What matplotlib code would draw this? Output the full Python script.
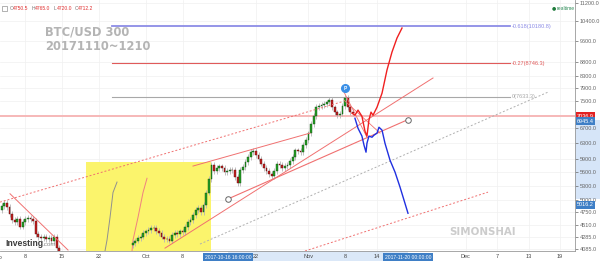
import matplotlib
matplotlib.use("Agg")
import matplotlib.pyplot as plt
import matplotlib.dates as mdates
import matplotlib.transforms as mtransforms
import pandas as pd
from matplotlib.patches import Rectangle
from matplotlib.ticker import FixedLocator, NullLocator, FuncFormatter

plt.rcParams["font.family"] = ["Liberation Sans", "DejaVu Sans"]

# 12h candles, closes (open = previous close)
sep_start = "2017-09-03 12:00"
sep_open = 4800
sep_close = [4880, 4930, 4850, 4720, 4600, 4560, 4620, 4480, 4560, 4620, 4640,
             4620, 4580, 4340, 4290, 4270, 4300, 4260, 4280, 4220, 4300, 4100,
             3950]
oct_start = "2017-09-28 12:00"
oct_open = 4150
oct_close = [4190, 4230, 4270, 4300, 4360, 4390, 4420, 4450, 4460, 4400, 4360,
             4300, 4260, 4250, 4230, 4330, 4360, 4350, 4390, 4380, 4470, 4560,
             4600, 4700, 4790, 4830, 4760, 4900, 5150, 5450, 5760, 5620, 5700,
             5730, 5700, 5600, 5620, 5650, 5640, 5480, 5350, 5640, 5720, 5830,
             5950, 6080, 6100, 6000, 5920, 5800, 5700, 5620, 5560, 5500, 5620,
             5780, 5760, 5700, 5740, 5760, 5860, 5960, 6120, 6100, 6080, 6250,
             6380, 6560, 6820, 7050, 7320, 7340, 7380, 7400, 7450, 7540, 7300,
             7150, 7080, 7120, 7350, 7600, 7300, 7160, 7130]

# fibonacci extension levels
fib_span = ["2017-09-24 13:00", "2017-12-09 10:40"]
fib_levels = [10180.8, 8746.3, 7633.3]
fib_labels = ["-0.618(10180.8)", "-0.27(8746.3)", "0(7633.3)"]

last_price = 7036.9
sel_dates = ["2017-10-16 16:00", "2017-11-20 00:00"]
sel_prices = [5016.2, 6945.4]

# hand drawn forecast paths
red_dates = ["2017-11-09 07:30", "2017-11-09 21:00", "2017-11-10 11:00",
             "2017-11-11 05:00", "2017-11-11 19:00", "2017-11-12 04:00",
             "2017-11-12 13:00", "2017-11-12 22:30", "2017-11-13 07:40",
             "2017-11-14 02:00", "2017-11-15 01:00", "2017-11-15 23:40",
             "2017-11-16 22:36", "2017-11-17 21:30", "2017-11-18 20:24"]
red_prices = [7130, 7070, 7220, 7040, 6620, 6490, 6930, 7160, 7070, 7306,
              7740, 8510, 9160, 9702, 10108]
blue_dates = ["2017-11-09 21:00", "2017-11-10 11:00", "2017-11-11 05:00",
              "2017-11-11 14:30", "2017-11-11 23:40", "2017-11-12 04:00",
              "2017-11-12 13:00", "2017-11-13 03:00", "2017-11-13 12:00",
              "2017-11-14 02:00", "2017-11-14 11:00", "2017-11-15 01:00",
              "2017-11-15 14:36", "2017-11-16 13:30", "2017-11-17 12:24",
              "2017-11-18 11:00", "2017-11-19 05:30", "2017-11-19 23:48"]
blue_prices = [6983, 6703, 6490, 6253, 6076, 6304, 6490, 6460, 6514, 6570,
               6730, 6650, 6300, 5880, 5600, 5270, 4992, 4730]

# fib arcs inside the yellow box
gray_arc_dates = ["2017-09-23 05:00", "2017-09-23 14:12", "2017-09-24 04:00",
                  "2017-09-24 17:36", "2017-09-25 12:00"]
gray_arc_prices = [4052, 4238, 4650, 5150, 5375]
red_arc_dates = ["2017-09-28 08:36", "2017-09-28 13:12", "2017-09-29 12:00",
                 "2017-09-30 11:00", "2017-10-01 05:18"]
red_arc_prices = [4052, 4238, 4650, 5150, 5460]

# trend lines: (start date, start price, end date, end price)
line_top_dash = ("2017-09-03 04:24", 4951, "2017-11-07 14:00", 7480)
line_low_dash = ("2017-10-31 08:24", 4052, "2017-12-05 06:00", 5158)
line_gray_dash = ("2017-10-11 07:48", 4169, "2017-12-16 16:36", 7772)
line_sep = ("2017-09-05 02:12", 5124, "2017-09-16 03:42", 4068)
line_channel = ("2017-10-09 23:48", 5740, "2017-11-01 07:18", 6570)
line_fan = ("2017-10-04 15:36", 4100, "2017-11-24 18:18", 8236)
line_peak1 = ("2017-11-07 19:00", 7772, "2017-11-12 04:00", 6460)
line_peak2 = ("2017-11-07 19:00", 7519, "2017-11-14 15:40", 6570)

box_span = ["2017-09-19 14:00", "2017-10-13 10:12"]
box_top = 5832
peak_date, peak_price = "2017-11-07 23:30", 7903

price_ticks = [4085, 4285, 4510, 4750, 5000, 5300, 5600, 5900, 6300, 6700,
               7500, 7900, 8300, 8800, 9600, 10400, 11200]
date_ticks = ["2017-09-08", "2017-09-15", "2017-09-22", "2017-10-01",
              "2017-10-08", "2017-10-22", "2017-11-01", "2017-11-08",
              "2017-11-14", "2017-12-01", "2017-12-07", "2017-12-13",
              "2017-12-19"]
date_labels = ["8", "15", "22", "Oct", "8", "22", "Nov", "8", "14", "Dec",
               "7", "13", "19"]


def dn(s):
    return mdates.date2num(pd.Timestamp(s))


def px(x, y):
    return x / 600, 1 - y / 261


fig = plt.figure(figsize=(6, 2.61), dpi=100)
ax = fig.add_axes([0, 10 / 261, 575 / 600, 251 / 261])
ax.set_yscale("log")
ax.set_xlim(dn("2017-09-03 04:24"), dn("2017-12-21 20:12"))
ax.set_ylim(4052, 11339)

# candles
for start, first_open, closes in [(sep_start, sep_open, sep_close),
                                  (oct_start, oct_open, oct_close)]:
    xs = mdates.date2num(pd.date_range(start, periods=len(closes), freq="12h"))
    opens = [first_open] + closes[:-1]
    for x, o, c in zip(xs, opens, closes):
        hi, lo = max(o, c), min(o, c)
        ax.vlines(x, lo / 1.012, hi * 1.012, color="#b5b5b5", lw=0.6, zorder=3)
        up = c >= o
        ax.bar(x, max(hi - lo, 8), bottom=lo, width=0.34,
               color="#25a025" if up else "#c42020",
               edgecolor="#104a10" if up else "#5a0c0c", lw=0.3, zorder=4)

ax.add_patch(Rectangle((dn(box_span[0]), 3000), dn(box_span[1]) - dn(box_span[0]),
                       box_top - 3000, fc="#fbf46c", ec="none", zorder=1))

for i, (lvl, lab) in enumerate(zip(fib_levels, fib_labels)):
    col = ["#8c8ce6", "#e05a5a", "#a8a8a8"][i]
    ax.plot([dn(fib_span[0]), dn(fib_span[1])], [lvl, lvl], color=col,
            lw=[1.3, 0.8, 0.8][i], zorder=2)
    ax.text(dn(fib_span[1]) + 0.3, lvl, lab, color=col, fontsize=4,
            va="center", ha="left")

ax.axhline(last_price, color="#f6b8b8", lw=1.4, zorder=2)

for ln, col, ls, lw in [(line_top_dash, "#f07070", (0, (2, 2)), 0.7),
                        (line_low_dash, "#f07070", (0, (2, 2)), 0.7),
                        (line_gray_dash, "#b0b0b0", (0, (2, 2)), 0.7),
                        (line_sep, "#f07070", "-", 0.7),
                        (line_channel, "#f07070", "-", 0.7),
                        (line_fan, "#f07070", "-", 0.7),
                        (line_peak1, "#f07070", "-", 0.6),
                        (line_peak2, "#f07070", "-", 0.6)]:
    ax.plot([dn(ln[0]), dn(ln[2])], [ln[1], ln[3]], color=col, ls=ls, lw=lw,
            zorder=5)

ax.plot([dn(d) for d in sel_dates], sel_prices, color="#f07070", lw=0.8, zorder=5)
ax.plot([dn(d) for d in sel_dates], sel_prices, "o", ms=4, mfc="white",
        mec="#666666", mew=0.7, zorder=6)

ax.plot([dn(d) for d in gray_arc_dates], gray_arc_prices, color="#909090",
        lw=0.7, zorder=2)
ax.plot([dn(d) for d in red_arc_dates], red_arc_prices, color="#f08080",
        lw=0.7, zorder=2)

ax.plot([dn(d) for d in red_dates], red_prices, color="#f02020", lw=1.0, zorder=6)
ax.plot([dn(d) for d in blue_dates], blue_prices, color="#2030e0", lw=1.0, zorder=6)

ax.plot(dn(peak_date), peak_price, "o", ms=5.5, color="#3a8fe6", zorder=7)
ax.text(dn(peak_date), peak_price, "P", color="white", fontsize=3.5,
        fontweight="bold", ha="center", va="center", zorder=8)

# axes styling
ax.yaxis.tick_right()
ax.yaxis.set_major_locator(FixedLocator(price_ticks))
ax.yaxis.set_minor_locator(NullLocator())
ax.yaxis.set_major_formatter(FuncFormatter(lambda v, _: f"{v:.1f}"))
ax.xaxis.set_major_locator(FixedLocator([dn(d) for d in date_ticks]))
ax.xaxis.set_major_formatter(FuncFormatter(
    lambda v, i: date_labels[i] if i is not None and i < len(date_labels) else ""))
ax.xaxis.set_minor_locator(NullLocator())
ax.tick_params(axis="y", labelsize=4, colors="#666666", length=2, width=0.5, pad=1.2)
ax.tick_params(axis="x", labelsize=4, colors="#444444", length=0, pad=2.5)
ax.grid(True, color="#f0f0f0", lw=0.5, zorder=0)
ax.set_axisbelow(True)
for side in ["left", "top"]:
    ax.spines[side].set_visible(False)
for side in ["right", "bottom"]:
    ax.spines[side].set_color("#999999")
    ax.spines[side].set_linewidth(0.6)

# month label cut by the left edge, as on the original
ax.text(-0.004, -0.024, "Sep", transform=ax.transAxes, fontsize=4,
        color="#444444", ha="center", va="center", clip_on=False)

yblend = mtransforms.blended_transform_factory(ax.transAxes, ax.transData)
xblend = mtransforms.blended_transform_factory(ax.transData, ax.transAxes)

ax.add_patch(Rectangle((1.0, sel_prices[0]), 0.05, sel_prices[1] - sel_prices[0],
                       transform=yblend, fc="#d6e5f8", ec="none", clip_on=False,
                       zorder=0))
ax.add_patch(Rectangle((dn(sel_dates[0]), -0.045),
                       dn(sel_dates[1]) - dn(sel_dates[0]), 0.045,
                       transform=xblend, fc="#dbe8f8", ec="none", clip_on=False,
                       zorder=0))
ax.annotate(f"{last_price:.1f}", xy=(1, last_price), xycoords=yblend,
            xytext=(1.5, 0), textcoords="offset points", fontsize=4,
            color="white", va="center", ha="left", annotation_clip=False,
            zorder=10, bbox=dict(boxstyle="square,pad=0.25", fc="#e32222", ec="none"))
for p, dy in zip(sel_prices, [-4.2, -1.2]):
    ax.annotate(f"{p:.1f}", xy=(1, p), xycoords=yblend, xytext=(1.5, dy),
                textcoords="offset points", fontsize=4, color="white",
                va="center", ha="left", annotation_clip=False, zorder=10,
                bbox=dict(boxstyle="square,pad=0.25", fc="#3f7fc6", ec="none"))
for d in sel_dates:
    ax.text(dn(d), -0.024, pd.Timestamp(d).strftime("%Y-%m-%d %H:%M:%S"),
            transform=xblend, fontsize=3.6, color="white", ha="center",
            va="center", clip_on=False, zorder=10,
            bbox=dict(boxstyle="square,pad=0.3", fc="#3f7fc6", ec="none"))

# header and watermark texts
fig.text(*px(45, 39.3), "BTC/USD 300\n20171110~1210", fontsize=8.3,
         fontweight="bold", family="DejaVu Sans", color="#b4b4b4",
         va="center", ha="left", multialignment="left", linespacing=1.2)
fig.text(*px(483, 232), "SIMONSHAI", fontsize=7.4, fontweight="bold",
         family="DejaVu Sans", color="#cccccc", va="center", ha="center")
fig.text(*px(5, 244), "Investing", fontsize=6.2, fontweight="bold",
         color="#3c3c3c", va="center", ha="left")
fig.text(*px(42, 245), ".com", fontsize=4.5, color="#888888", va="center",
         ha="left")

fig.patches.append(Rectangle(px(2, 11), 5 / 600, 5 / 261, fc="white",
                             ec="#777777", lw=0.4, transform=fig.transFigure))
ohlc = [("O", 10, "#777777"), ("4750.5", 13, "#e03030"), ("H", 32, "#777777"),
        ("4765.0", 35, "#e03030"), ("L", 54, "#777777"), ("4720.0", 57, "#e03030"),
        ("C", 75, "#777777"), ("4712.2", 78, "#e03030")]
for txt, x, col in ohlc:
    fig.text(*px(x, 9), txt, fontsize=3.6, color=col, va="center", ha="left")

fig.text(*px(554, 8), "\u25cf", fontsize=3.5, color="#1d7a3a", va="center",
         ha="center", family="DejaVu Sans")
fig.text(*px(557, 8), "realtime", fontsize=3.6, color="#2e8b57", va="center",
         ha="left")

fig.savefig("out.png", dpi=100, facecolor="white")
